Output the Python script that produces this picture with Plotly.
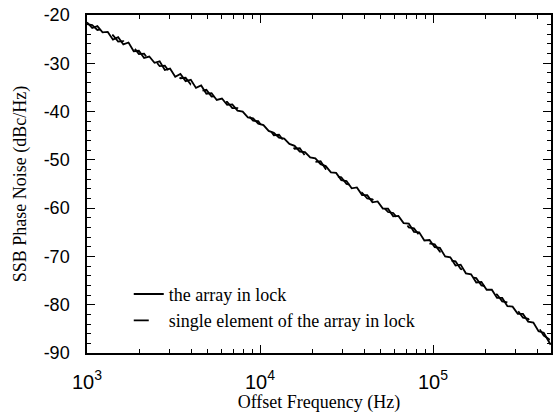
import plotly.graph_objects as go

freq_hz = [1000, 1072, 1148, 1230, 1318, 1413, 1514, 1622, 1738, 1862,
           1995, 2138, 2291, 2455, 2630, 2818, 3020, 3236, 3467, 3715,
           3981, 4266, 4571, 4898, 5248, 5623, 6026, 6457, 6918, 7413,
           7943, 8511, 9120, 9772, 10470, 11220, 12020, 12880, 13800, 14790,
           15850, 16980, 18200, 19500, 20890, 22390, 23990, 25700, 27540, 29510,
           31620, 33880, 36310, 38900, 41690, 44670, 47860, 51290, 54950, 58880,
           63100, 67610, 72440, 77620, 83180, 89130, 95500, 102300, 109600, 117500,
           125900, 134900, 144500, 154900, 166000, 177800, 190500, 204200, 218800, 234400,
           251200, 269200, 288400, 309000, 331100, 354800, 380200, 407400, 436500, 467700,
           478600]

array_in_lock = [-21.5, -22.7, -22.3, -23.6, -23.5, -25.1, -24.6, -26.1, -25.7, -27.5,
                 -27.4, -28.9, -28.6, -29.9, -29.6, -31.4, -31.1, -32.8, -32.2, -33.7,
                 -33.4, -35.1, -34.6, -36.3, -36.2, -37.6, -37.3, -38.6, -38.5, -39.8,
                 -40.0, -41.2, -41.4, -42.5, -42.8, -44.0, -44.4, -45.4, -45.6, -46.7,
                 -47.1, -48.3, -48.4, -49.5, -49.7, -50.9, -51.3, -52.6, -52.7, -54.2,
                 -54.4, -55.9, -55.7, -57.3, -57.3, -58.8, -58.6, -60.1, -60.1, -61.7,
                 -61.6, -63.1, -63.2, -64.9, -65.0, -66.7, -66.6, -68.1, -68.2, -70.0,
                 -70.2, -71.9, -71.7, -73.5, -73.7, -75.4, -75.3, -76.9, -76.9, -78.6,
                 -78.6, -80.3, -80.4, -81.9, -81.9, -83.5, -83.7, -85.5, -85.8, -87.8,
                 -88.3]

single_element = [-21.9, -22.1, -23.1, -23.0, -24.3, -24.2, -25.5, -25.4, -26.8, -26.7,
                  -28.1, -28.0, -29.4, -29.2, -30.6, -30.5, -31.9, -31.8, -33.1, -33.0,
                  -34.4, -34.3, -35.7, -35.5, -36.9, -36.8, -38.1, -38.0, -39.3, -39.3,
                  -40.6, -40.7, -41.9, -42.0, -43.5, -43.4, -44.9, -44.8, -46.2, -46.2,
                  -47.7, -47.6, -49.1, -48.9, -50.4, -50.3, -51.9, -52.0, -53.4, -53.6,
                  -55.0, -55.2, -56.5, -56.8, -58.0, -58.2, -59.4, -59.6, -60.8, -61.0,
                  -62.3, -62.5, -64.0, -64.2, -65.6, -65.9, -67.3, -67.5, -69.0, -69.2,
                  -70.8, -71.0, -72.6, -72.8, -74.3, -74.5, -76.0, -76.2, -77.7, -77.9,
                  -79.3, -79.5, -81.0, -81.2, -82.7, -82.9, -84.4, -84.7, -86.4, -87.1,
                  -88.5]

x_tick_vals = [1e3, 1e4, 1e5]
x_tick_text = ["10<sup>3</sup>", "10<sup>4</sup>", "10<sup>5</sup>"]
x_minor_vals = [2e3, 3e3, 4e3, 5e3, 6e3, 7e3, 8e3, 9e3,
                2e4, 3e4, 4e4, 5e4, 6e4, 7e4, 8e4, 9e4,
                2e5, 3e5, 4e5]
y_tick_vals = [-90, -80, -70, -60, -50, -40, -30, -20]
y_tick_text = ["-90", "-80", "-70", "-60", "-50", "-40", "-30", "-20"]

serif = "Liberation Serif, Times New Roman, serif"
sans = "Liberation Sans, Arial, sans-serif"

fig = go.Figure()
fig.add_trace(go.Scatter(x=freq_hz, y=array_in_lock, mode="lines",
                         name="the array in lock",
                         line=dict(color="black", width=1.8)))
fig.add_trace(go.Scatter(x=freq_hz, y=single_element, mode="lines",
                         name="single element of the array in lock",
                         line=dict(color="black", width=1.8, dash="longdash")))

fig.update_layout(
    width=553, height=413,
    margin=dict(l=87, r=2, t=15, b=60, autoexpand=False),
    paper_bgcolor="white", plot_bgcolor="white",
    showlegend=True,
    legend=dict(x=0.09, y=0.042, xanchor="left", yanchor="bottom",
                bgcolor="rgba(0,0,0,0)", borderwidth=0,
                font=dict(family=serif, size=18, color="black"),
                tracegroupgap=0),
)
fig.update_xaxes(
    type="log", range=[3, 5.682], automargin=False,
    tickvals=x_tick_vals, ticktext=x_tick_text,
    ticks="inside", ticklen=8, tickwidth=1, tickcolor="black",
    minor=dict(tickvals=x_minor_vals, ticks="inside", ticklen=4, tickcolor="black"),
    showline=True, linecolor="black", linewidth=1.5, mirror="allticks",
    showgrid=False, zeroline=False,
    tickfont=dict(family=sans, size=20, color="black"),
    ticklabelstandoff=10, ticklabeloverflow="allow",
    title=dict(text="Offset Frequency (Hz)", font=dict(family=serif, size=18, color="black"),
               standoff=2),
)
fig.update_yaxes(
    range=[-90, -20], automargin=False,
    tickvals=y_tick_vals, ticktext=y_tick_text,
    ticks="inside", ticklen=8, tickwidth=1, tickcolor="black",
    minor=dict(dtick=2, ticks="inside", ticklen=4, tickcolor="black"),
    showline=True, linecolor="black", linewidth=1.5, mirror="allticks",
    showgrid=False, zeroline=False,
    tickfont=dict(family=sans, size=18, color="black"),
    ticklabelstandoff=12, ticklabeloverflow="allow",
    title=dict(text="SSB Phase Noise (dBc/Hz)", font=dict(family=serif, size=18, color="black"),
               standoff=12),
)

fig.write_html(
    "out.html",
    config={"displayModeBar": False},
    post_script="document.body.style.margin='0';document.body.style.overflow='hidden';",
)
